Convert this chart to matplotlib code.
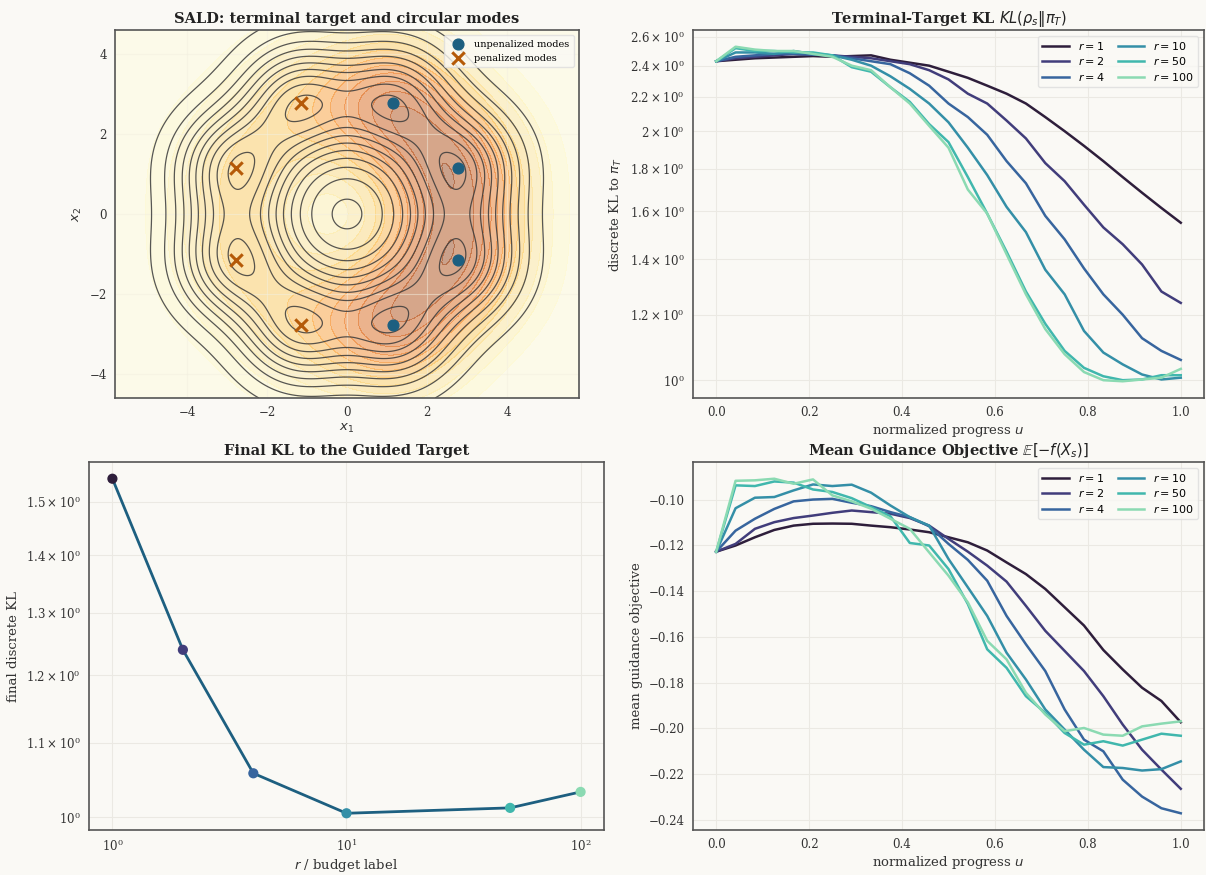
import numpy as np
import matplotlib
matplotlib.use("Agg")
import matplotlib.pyplot as plt
import seaborn as sns

plt.rcParams["font.family"] = ["DejaVu Serif"]
plt.rcParams["mathtext.fontset"] = "dejavusans"

# ---- data ----
budgets = [1, 2, 4, 10, 50, 100]
u = np.arange(25) / 24

kl_curves = {
    1: [2.43, 2.44, 2.45, 2.455, 2.46, 2.465, 2.46, 2.465, 2.47, 2.44, 2.42, 2.40, 2.36,
        2.32, 2.27, 2.22, 2.16, 2.08, 2.00, 1.92, 1.84, 1.76, 1.685, 1.615, 1.55],
    2: [2.43, 2.45, 2.46, 2.47, 2.48, 2.475, 2.47, 2.46, 2.45, 2.43, 2.41, 2.37, 2.31,
        2.22, 2.16, 2.06, 1.96, 1.83, 1.74, 1.63, 1.53, 1.46, 1.38, 1.28, 1.24],
    4: [2.43, 2.46, 2.47, 2.48, 2.48, 2.475, 2.47, 2.45, 2.43, 2.41, 2.35, 2.27, 2.16,
        2.08, 1.98, 1.84, 1.73, 1.58, 1.48, 1.365, 1.27, 1.20, 1.124, 1.085, 1.058],
    10: [2.43, 2.49, 2.49, 2.48, 2.50, 2.48, 2.47, 2.44, 2.40, 2.33, 2.25, 2.16, 2.05,
         1.91, 1.77, 1.62, 1.51, 1.36, 1.27, 1.147, 1.08, 1.045, 1.016, 1.002, 1.007],
    50: [2.43, 2.52, 2.50, 2.50, 2.49, 2.49, 2.47, 2.39, 2.36, 2.26, 2.17, 2.04, 1.94,
         1.76, 1.59, 1.43, 1.28, 1.17, 1.085, 1.035, 1.011, 1.0, 1.002, 1.014, 1.014],
    100: [2.43, 2.53, 2.51, 2.50, 2.50, 2.48, 2.46, 2.40, 2.37, 2.26, 2.16, 2.03, 1.91,
          1.70, 1.59, 1.42, 1.27, 1.153, 1.075, 1.023, 1.0, 0.997, 1.002, 1.007, 1.032],
}

guidance_curves = {
    1: [-0.1227, -0.120, -0.1164, -0.1132, -0.1113, -0.1105, -0.1104, -0.1105, -0.1113,
        -0.112, -0.1130, -0.1142, -0.1164, -0.1186, -0.1222, -0.1274, -0.1325, -0.139,
        -0.147, -0.155, -0.1657, -0.1742, -0.1822, -0.188, -0.1973],
    2: [-0.1227, -0.1193, -0.1127, -0.1098, -0.108, -0.1069, -0.1057, -0.1047, -0.1054,
        -0.1061, -0.108, -0.1113, -0.1171, -0.1227, -0.1288, -0.1358, -0.1464, -0.1573,
        -0.1661, -0.1749, -0.1859, -0.1983, -0.2093, -0.218, -0.2264],
    4: [-0.1227, -0.1135, -0.1083, -0.104, -0.1007, -0.0999, -0.0996, -0.1013, -0.1028,
        -0.1054, -0.1076, -0.1116, -0.1193, -0.1263, -0.1354, -0.1508, -0.1632, -0.1749,
        -0.1917, -0.2049, -0.21, -0.2224, -0.2298, -0.2349, -0.2371],
    10: [-0.1227, -0.1037, -0.0991, -0.0988, -0.0959, -0.0933, -0.094, -0.0934, -0.0969,
         -0.1025, -0.1076, -0.1113, -0.1259, -0.1383, -0.1508, -0.1669, -0.1786, -0.1917,
         -0.2005, -0.2093, -0.2169, -0.2173, -0.2184, -0.2178, -0.2144],
    50: [-0.1227, -0.0937, -0.094, -0.092, -0.0925, -0.0955, -0.0966, -0.0993, -0.1032,
         -0.1072, -0.1189, -0.1200, -0.1303, -0.1456, -0.1654, -0.1735, -0.1859, -0.1932,
         -0.2020, -0.2071, -0.2056, -0.2075, -0.2049, -0.2023, -0.2032],
    100: [-0.1227, -0.0917, -0.0915, -0.0908, -0.093, -0.0911, -0.0981, -0.1007, -0.1039,
          -0.1083, -0.1127, -0.123, -0.1332, -0.1449, -0.1617, -0.1698, -0.1844, -0.1939,
          -0.2012, -0.1998, -0.2027, -0.2032, -0.1991, -0.1979, -0.1969],
}

final_kl = [1.545, 1.24, 1.058, 1.005, 1.012, 1.033]

# circular mixture target
n_modes = 8
mode_radius = 3.0
mode_sigma = 1.0
guided_sigma = 1.25
penalized_weight = 0.42
n_line_levels = 10

# ---- style ----
bg = "#faf9f5"
colors = sns.color_palette("mako", 6)
line_blue = "#1d5f80"
pen_orange = "#b55a08"
spine_col = "#555555"

fig = plt.figure(figsize=(12.06, 8.75), dpi=100, facecolor=bg)
W, H = 1206, 875


def add_ax(l, t, r, b):
    ax = fig.add_axes([l / W, 1 - b / H, (r - l) / W, (b - t) / H])
    ax.set_facecolor(bg)
    for s in ax.spines.values():
        s.set_color(spine_col)
        s.set_linewidth(1.2)
    ax.grid(True, color="#ebe9e3", linewidth=0.8)
    ax.tick_params(length=0, labelsize=8.5, pad=6, labelcolor="#333333")
    return ax


ax1 = add_ax(115, 30, 579, 398)
ax2 = add_ax(693, 30, 1204, 398)
ax3 = add_ax(89, 462, 604, 830)
ax4 = add_ax(693, 462, 1204, 830)

title_kw = dict(fontsize=10.5, fontweight="bold", color="#222222", pad=5)
label_kw = dict(fontsize=9.5, color="#333333")

# ---- panel 1: target density ----
angles = np.deg2rad(22.5 + 45 * np.arange(n_modes))
mx = mode_radius * np.cos(angles)
my = mode_radius * np.sin(angles)
pen = mx < 0

gx = np.linspace(-5.8, 5.8, 400)
gy = np.linspace(-4.6, 4.6, 320)
X, Y = np.meshgrid(gx, gy)
d2 = (X[..., None] - mx) ** 2 + (Y[..., None] - my) ** 2
dens = np.exp(-d2 / (2 * mode_sigma ** 2)).sum(-1)
w = np.where(pen, penalized_weight, 1.0)
guided = (w * np.exp(-d2 / (2 * guided_sigma ** 2))).sum(-1)

ax1.contourf(X, Y, guided, levels=np.linspace(0, guided.max() * 1.15, 16),
             cmap="YlOrBr", alpha=0.44)
line_levels = dens.max() * np.arange(1, n_line_levels + 1) / (n_line_levels + 0.4)
ax1.contour(X, Y, dens, levels=line_levels,
            colors="#3a3a3a", linewidths=0.9, alpha=0.85)
ax1.grid(True, color="#f3efe0", linewidth=0.8, alpha=0.5)
ax1.scatter(mx[~pen], my[~pen], s=60, color=line_blue, zorder=5,
            label="unpenalized modes")
ax1.scatter(mx[pen], my[pen], s=80, marker="x", linewidths=2.2, color=pen_orange,
            zorder=5, label="penalized modes")
ax1.set_xlim(-5.8, 5.8)
ax1.set_ylim(-4.6, 4.6)
ax1.set_xticks([-4, -2, 0, 2, 4])
ax1.set_yticks([-4, -2, 0, 2, 4])
ax1.set_title("SALD: terminal target and circular modes", **title_kw)
ax1.set_xlabel("$x_1$", labelpad=2, **label_kw)
ax1.set_ylabel("$x_2$", **label_kw)
ax1.legend(loc="upper right", fontsize=7, frameon=True, facecolor="#faf9f5",
           edgecolor="#dddddd", borderpad=0.5, handletextpad=0.6)

# ---- panel 2: KL curves ----
for c, r in zip(colors, budgets):
    ax2.plot(u, kl_curves[r], color=c, lw=1.8, label=f"$r={r}$")
ax2.set_yscale("log")
ax2.set_yticks([1.0, 1.2, 1.4, 1.6, 1.8, 2.0, 2.2, 2.4, 2.6])
ax2.yaxis.set_minor_locator(matplotlib.ticker.NullLocator())
ax2.set_xticks([0.0, 0.2, 0.4, 0.6, 0.8, 1.0])
ax2.set_title(r"Terminal-Target KL $KL(\rho_s\|\pi_T)$", **title_kw)
ax2.set_xlabel("normalized progress $u$", labelpad=2, **label_kw)
ax2.set_ylabel(r"discrete KL to $\pi_T$", **label_kw)
ax2.legend(loc="upper right", ncol=2, fontsize=8, facecolor="#faf9f5",
           edgecolor="#dddddd", handlelength=2.4, columnspacing=1.2,
           labelspacing=0.3)

# ---- panel 3: final KL vs budget ----
ax3.plot(budgets, final_kl, color=line_blue, lw=2, zorder=2)
ax3.scatter(budgets, final_kl, color=colors, s=40, zorder=3)
ax3.set_xscale("log")
ax3.set_yscale("log")
ax3.set_yticks([1.0, 1.1, 1.2, 1.3, 1.4, 1.5])
ax3.yaxis.set_minor_locator(matplotlib.ticker.NullLocator())
ax3.xaxis.set_minor_locator(matplotlib.ticker.NullLocator())
ax3.set_title("Final KL to the Guided Target", **title_kw)
ax3.set_xlabel("$r$ / budget label", labelpad=2, **label_kw)
ax3.set_ylabel("final discrete KL", **label_kw)

# ---- panel 4: guidance objective ----
for c, r in zip(colors, budgets):
    ax4.plot(u, guidance_curves[r], color=c, lw=1.8, label=f"$r={r}$")
ax4.set_xticks([0.0, 0.2, 0.4, 0.6, 0.8, 1.0])
ax4.set_title(r"Mean Guidance Objective $\mathbb{E}[-f(X_s)]$", **title_kw)
ax4.set_xlabel("normalized progress $u$", labelpad=2, **label_kw)
ax4.set_ylabel("mean guidance objective", **label_kw)
ax4.legend(loc="upper right", ncol=2, fontsize=8, facecolor="#faf9f5",
           edgecolor="#dddddd", handlelength=2.4, columnspacing=1.2,
           labelspacing=0.3)

fig.savefig("out.png", dpi=100, facecolor=bg)
